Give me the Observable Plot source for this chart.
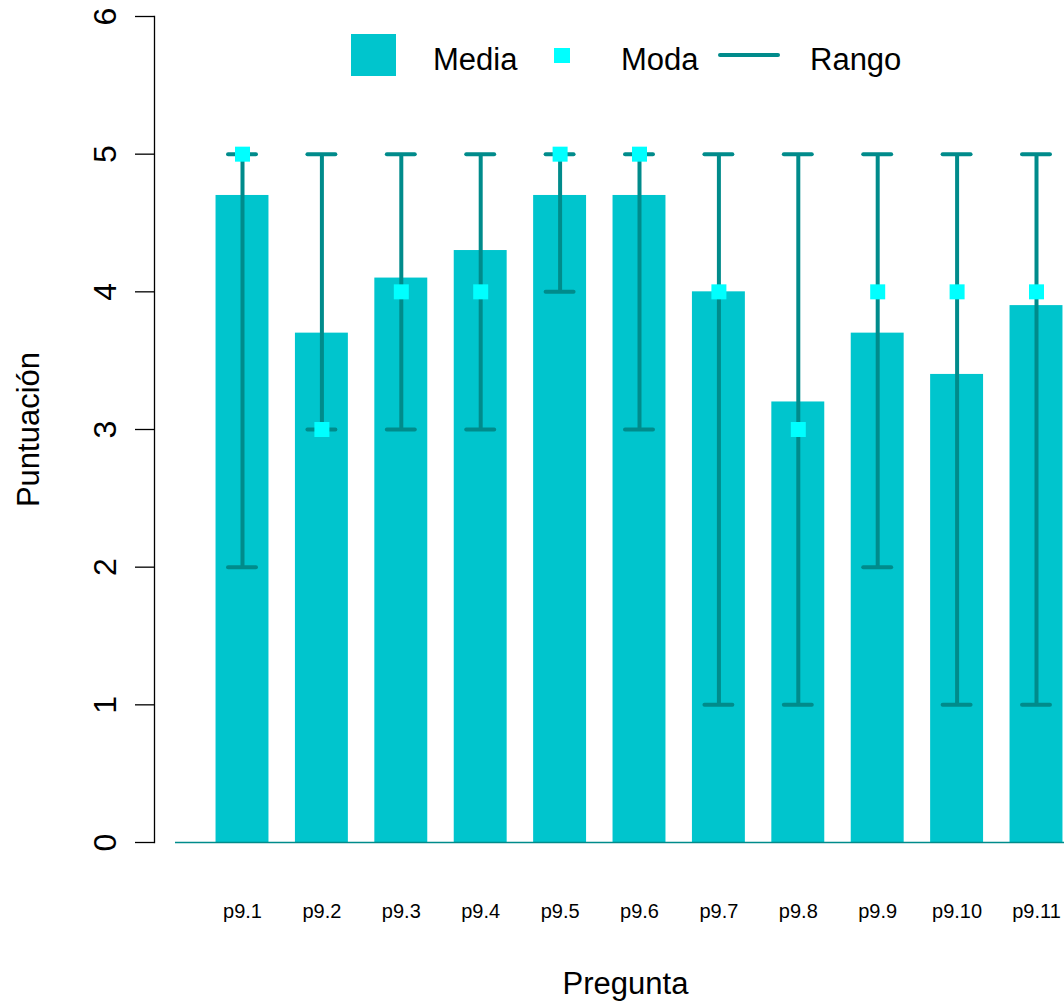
<!DOCTYPE html>
<html>
<head>
<meta charset="utf-8">
<script src="https://cdn.jsdelivr.net/npm/d3@7"></script>
<script src="https://cdn.jsdelivr.net/npm/@observablehq/plot@0.6"></script>
<style>
  html, body { margin: 0; padding: 0; background: #fff; }
  #wrap { position: relative; width: 1064px; height: 1004px; }
  #legend { position: absolute; left: 0; top: 0; pointer-events: none; }
</style>
</head>
<body>
<div id="wrap"></div>
<script>
const categories = ["p9.1", "p9.2", "p9.3", "p9.4", "p9.5", "p9.6", "p9.7", "p9.8", "p9.9", "p9.10", "p9.11"];
const media = [4.7, 3.7, 4.1, 4.3, 4.7, 4.7, 4.0, 3.2, 3.7, 3.4, 3.9];
const moda = [5, 3, 4, 4, 5, 5, 4, 3, 4, 4, 4];
const rangoMin = [2, 3, 3, 3, 4, 3, 1, 1, 2, 1, 1];
const rangoMax = [5, 5, 5, 5, 5, 5, 5, 5, 5, 5, 5];
const yTicks = [0, 1, 2, 3, 4, 5, 6];
const legendLabels = ["Media", "Moda", "Rango"];

const data = categories.map((c, i) => ({
  pregunta: c, media: media[i], moda: moda[i], min: rangoMin[i], max: rangoMax[i]
}));

const FONT = "'Liberation Sans', Arial, Helvetica, sans-serif";
const barColor = "#00C5CD";
const rangeColor = "#008B8B";
const modeColor = "#00FFFF";

const chart = Plot.plot({
  width: 1064,
  height: 1004,
  marginLeft: 154,
  marginRight: 0,
  marginTop: 16,
  marginBottom: 162,
  style: { fontFamily: FONT, background: "#fff", color: "#000" },
  x: { type: "band", domain: categories, range: [202.3, 1075.7], paddingInner: 1 / 3, paddingOuter: 1 / 6, round: false },
  y: { domain: [0, 6] },
  marks: [
    Plot.barY(data, { x: "pregunta", y: "media", fill: barColor }),
    Plot.ruleY([0], { stroke: rangeColor, strokeWidth: 1.3, insetLeft: 21 }),
    Plot.ruleX(data, { x: "pregunta", y1: "min", y2: "max", stroke: rangeColor, strokeWidth: 4 }),
    Plot.tickY(data, { x: "pregunta", y: "max", stroke: rangeColor, strokeWidth: 4, strokeLinecap: "round", insetLeft: 12.5, insetRight: 12.5 }),
    Plot.tickY(data, { x: "pregunta", y: "min", stroke: rangeColor, strokeWidth: 4, strokeLinecap: "round", insetLeft: 12.5, insetRight: 12.5 }),
    Plot.dot(data, { x: "pregunta", y: "moda", symbol: "square", fill: modeColor, stroke: "none", r: 15 / Math.sqrt(Math.PI) }),
    Plot.frame({ anchor: "left", stroke: "#000", strokeWidth: 1.3 }),
    Plot.axisY({ ticks: yTicks, tickSize: 19, tickFormat: () => "", label: null, stroke: "#000", strokeWidth: 1.3 }),
    Plot.text(yTicks, { y: d => d, text: d => String(d), frameAnchor: "left", dx: -39, rotate: -90, textAnchor: "middle", lineAnchor: "bottom", fontSize: 32, fill: "#000" }),
    Plot.axisX({ tickSize: 0, tickPadding: 61, fontSize: 20, label: null, fill: "#000" }),
    Plot.text(["Puntuación"], { frameAnchor: "left", dx: -116, rotate: -90, textAnchor: "middle", lineAnchor: "bottom", fontSize: 31, fill: "#000" }),
    Plot.text(["Pregunta"], { frameAnchor: "bottom", dx: 16, dy: 151, textAnchor: "middle", lineAnchor: "bottom", fontSize: 31, fill: "#000" })
  ]
});

const wrap = document.getElementById("wrap");
wrap.appendChild(chart);

// Legend overlay (inside the plot area, as in the reference)
const leg = d3.create("svg")
  .attr("id", "legend")
  .attr("width", 1064)
  .attr("height", 100)
  .style("font-family", FONT);
leg.append("rect").attr("x", 351).attr("y", 34).attr("width", 45).attr("height", 42).attr("fill", barColor);
leg.append("text").attr("x", 433).attr("y", 70).attr("font-size", 31).attr("fill", "#000").text(legendLabels[0]);
leg.append("rect").attr("x", 554).attr("y", 48).attr("width", 16).attr("height", 15).attr("fill", modeColor);
leg.append("text").attr("x", 621).attr("y", 70).attr("font-size", 31).attr("fill", "#000").text(legendLabels[1]);
leg.append("line").attr("x1", 720).attr("x2", 778).attr("y1", 55).attr("y2", 55)
  .attr("stroke", rangeColor).attr("stroke-width", 4).attr("stroke-linecap", "round");
leg.append("text").attr("x", 810).attr("y", 70).attr("font-size", 31).attr("fill", "#000").text(legendLabels[2]);
wrap.appendChild(leg.node());
</script>
</body>
</html>
